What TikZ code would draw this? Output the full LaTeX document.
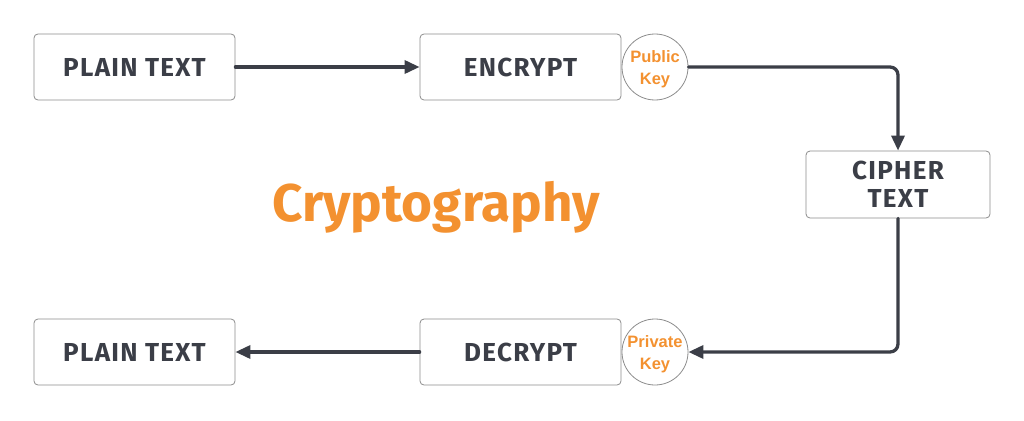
\documentclass[tikz,border=0pt]{standalone}
\usepackage{fontspec}
\setmainfont{Liberation Sans}
\newfontfamily\boxfont[LetterSpace=5]{Fira Sans}
\newfontfamily\titlefont{Fira Sans}
\usetikzlibrary{arrows.meta}
\definecolor{inkgray}{HTML}{3B3E47}
\definecolor{keyorange}{HTML}{F39130}
\definecolor{edgegray}{HTML}{8C8C8C}
\begin{document}
\begin{tikzpicture}[x=1pt, y=-1pt, line join=round, line cap=round, >={Triangle[length=15pt,width=13pt]},
	stepbox/.style={draw=edgegray, line width=0.8pt, rounded corners=4pt, minimum width=201pt, minimum height=66pt, inner sep=0pt, align=center, text=inkgray, font=\boxfont\bfseries\fontsize{26}{28}\selectfont},
	keycircle/.style={draw=edgegray, line width=0.8pt, circle, minimum size=66pt, inner sep=0pt, align=center, text=keyorange, font=\bfseries\fontsize{16.5}{22}\selectfont},
	flow/.style={draw=inkgray, line width=3.3pt, rounded corners=8pt}]
	\useasboundingbox (0,0) rectangle (1024,420);
	% top row
	\node[stepbox] (plaintop) at (134.5,67) {PLAIN TEXT};
	\node[stepbox] (encrypt) at (520.5,67) {ENCRYPT};
	\node[keycircle] (pubkey) at (655,67) {};
	\node[text=keyorange, font=\bfseries\fontsize{16.5}{22}\selectfont, align=center] (publabel) at (655,69.5) {Public\\Key};
	% right side
	\node[stepbox, minimum width=184pt, minimum height=67pt] (cipher) at (898,184.5) {CIPHER\\TEXT};
	% bottom row
	\node[stepbox] (decrypt) at (520.5,352) {DECRYPT};
	\node[keycircle] (privkey) at (655,352) {};
	\node[text=keyorange, font=\bfseries\fontsize{16.5}{22}\selectfont, align=center] (privlabel) at (655,354.5) {Private\\Key};
	\node[stepbox] (plainbot) at (134.5,352) {PLAIN TEXT};
	% title
	\node[text=keyorange, font=\titlefont\bfseries\fontsize{53}{60}\selectfont] (title) at (436,207) {Cryptography};
	% connectors
	\draw[flow, ->] (plaintop.east) -- (encrypt.west);
	\draw[flow, ->] (pubkey.east) -| (cipher.north);
	\draw[flow, ->] (cipher.south) |- (privkey.east);
	\draw[flow, ->] (decrypt.west) -- (plainbot.east);
\end{tikzpicture}
\end{document}
